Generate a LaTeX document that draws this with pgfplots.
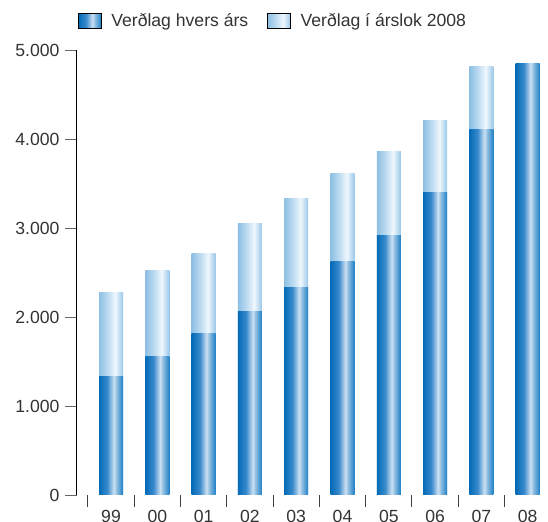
\documentclass[border=0pt]{standalone}
\usepackage{fontspec}
\setmainfont{Liberation Sans}
\usepackage{pgfplots}
\pgfplotsset{compat=1.18}
\definecolor{txt}{HTML}{333333}
\pgfdeclarehorizontalshading{darkbar}{100bp}{
 rgb(0bp)=(0.02,0.42,0.72);
 rgb(25bp)=(0.02,0.42,0.72);
 rgb(42bp)=(0.22,0.54,0.80);
 rgb(56bp)=(0.80,0.88,0.95);
 rgb(62bp)=(0.55,0.74,0.88);
 rgb(75bp)=(0.12,0.50,0.78);
 rgb(100bp)=(0.12,0.50,0.78)}
\pgfdeclarehorizontalshading{lightbar}{100bp}{
 rgb(0bp)=(0.55,0.75,0.89);
 rgb(25bp)=(0.55,0.75,0.89);
 rgb(45bp)=(0.76,0.87,0.95);
 rgb(59bp)=(0.94,0.97,0.99);
 rgb(75bp)=(0.60,0.78,0.91);
 rgb(100bp)=(0.60,0.78,0.91)}
\newcommand\lblfont{\fontsize{17.6bp}{20bp}\selectfont}
\pgfplotsset{
 lb/.style={ybar, bar width=24bp, bar shift=0pt, draw=none, shading=lightbar, forget plot},
 db/.style={ybar, bar width=24bp, bar shift=0pt, draw=none, shading=darkbar, forget plot}}
\begin{document}
\begin{tikzpicture}
\begin{axis}[
 at={(76.7bp,27bp)}, anchor=south west, scale only axis,
 width=471.3bp, height=445bp,
 xmin=-0.741, xmax=9.438, ymin=0, ymax=5000,
 axis x line*=bottom, axis y line*=left,
 x axis line style={draw=none},
 y axis line style={black, line width=1bp},
 xtick={0,...,9}, xticklabels={99,00,01,02,03,04,05,06,07,08},
 major x tick style={draw=none},
 minor xtick={-0.5,0.5,...,8.5},
 minor x tick style={draw=black!75, line width=1bp},
 minor tick length=12bp, major tick length=11.7bp, tick align=outside,
 ytick={0,1000,...,5000}, yticklabels={0,1.000,2.000,3.000,4.000,5.000},
 major y tick style={draw=black!60, line width=1bp},
 tick label style={font=\lblfont, text=txt},
 yticklabel style={xshift=-2bp},
 legend style={draw=none, fill=none, at={(0.4165,1.066)}, anchor=center,
   font=\lblfont, text=txt, /tikz/every even column/.append style={column sep=17bp}},
 legend columns=2,
]
% Verðlag í árslok 2008 (light, behind)
\addplot[lb] coordinates {(0,2270)};
\addplot[lb] coordinates {(1,2528)};
\addplot[lb] coordinates {(2,2719)};
\addplot[lb] coordinates {(3,3045)};
\addplot[lb] coordinates {(4,3337)};
\addplot[lb] coordinates {(5,3607)};
\addplot[lb] coordinates {(6,3865)};
\addplot[lb] coordinates {(7,4213)};
\addplot[lb] coordinates {(8,4812)};
\addplot[lb] coordinates {(9,4843)};
% Verðlag hvers árs (dark, front)
\addplot[db] coordinates {(0,1326)};
\addplot[db] coordinates {(1,1551)};
\addplot[db] coordinates {(2,1809)};
\addplot[db] coordinates {(3,2067)};
\addplot[db] coordinates {(4,2326)};
\addplot[db] coordinates {(5,2621)};
\addplot[db] coordinates {(6,2921)};
\addplot[db] coordinates {(7,3404)};
\addplot[db] coordinates {(8,4112)};
\addplot[db] coordinates {(9,4843)};
\addlegendimage{legend image code/.code={\fill[shading=darkbar] (0bp,-7.5bp) rectangle (23bp,7.5bp); \path (31bp,0bp);}}
\addlegendentry{Verðlag hvers árs}
\addlegendimage{legend image code/.code={\fill[shading=lightbar] (0bp,-7.5bp) rectangle (23bp,7.5bp); \path (31bp,0bp);}}
\addlegendentry{Verðlag í árslok 2008}
\draw[black!75, line width=1bp] (axis cs:-0.5,0) -- (axis cs:9.438,0);
\end{axis}
\pgfresetboundingbox
\path[use as bounding box] (0,0) rectangle (548bp,522bp);
\end{tikzpicture}
\end{document}
